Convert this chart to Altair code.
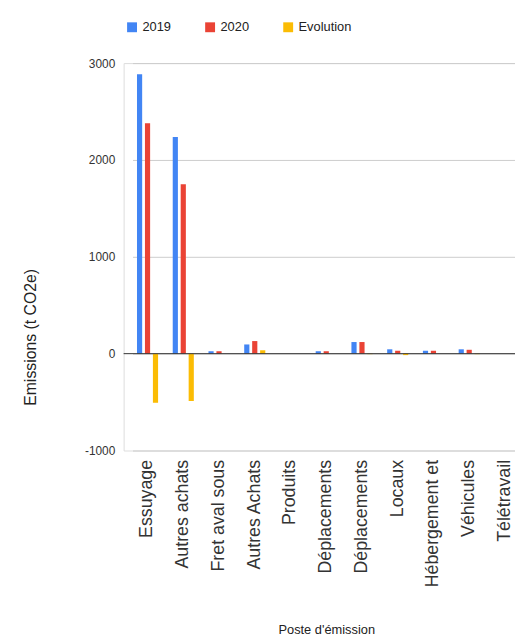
import altair as alt
import pandas as pd

categories = ["Essuyage", "Autres achats", "Fret aval sous", "Autres Achats", "Produits",
              "Déplacements", "Déplacements ", "Locaux", "Hébergement et", "Véhicules", "Télétravail"]
v2019 = [2885, 2237, 25, 95, 0, 25, 120, 45, 30, 45, 0]
v2020 = [2378, 1748, 25, 130, 0, 25, 120, 30, 30, 40, 0]
evolution = [-507, -489, 0, 35, 0, 0, -5, -15, 0, -5, 0]
series = ["2019", "2020", "Evolution"]
colors = ["#4285F4", "#EA4335", "#FBBC04"]

rows = []
for i, c in enumerate(categories):
    for s, vals in zip(series, [v2019, v2020, evolution]):
        rows.append({"cat": c, "serie": s, "value": vals[i]})
df = pd.DataFrame(rows)

font = "Liberation Sans"

bars = alt.Chart(df).mark_bar().encode(
    x=alt.X("cat:N", sort=categories, title="Poste d'émission",
            scale=alt.Scale(paddingInner=0.41, paddingOuter=0.125, range=[9, 401]),
            axis=alt.Axis(labelAngle=-90, labelAlign="right", labelBaseline="middle",
                          labelFontSize=18, labelColor="#333", labelFont=font,
                          labelPadding=9, ticks=False, domain=False,
                          titleFont=font, titleFontSize=13, titleFontWeight="normal",
                          titleColor="#222", titleY=175, labelLimit=250)),
    xOffset=alt.XOffset("serie:N", sort=series, scale=alt.Scale(paddingInner=0.35)),
    y=alt.Y("value:Q", title="Emissions (t CO2e)",
            scale=alt.Scale(domain=[-1000, 3000], nice=False),
            axis=alt.Axis(values=[-1000, 0, 1000, 2000, 3000], labelFont=font,
                          labelExpr="'' + datum.value",
                          labelFontSize=12, labelColor="#333", labelPadding=9,
                          ticks=False, domain=False, gridColor="#cccccc",
                          titleFont=font, titleFontSize=16, titleFontWeight="normal",
                          titleColor="#222", titleX=-86, titleY=277)),
    color=alt.Color("serie:N", sort=series,
                    scale=alt.Scale(domain=series, range=colors),
                    legend=alt.Legend(title=None, orient="none", direction="horizontal",
                                      legendX=2, legendY=-43, symbolType="square",
                                      symbolSize=100, symbolStrokeWidth=0,
                                      labelFont=font, labelFontSize=13, labelColor="#222",
                                      columnPadding=33, symbolOpacity=1)),
)

zero = alt.Chart(pd.DataFrame({"z": [0]})).mark_rule(color="#333333", strokeWidth=1).encode(y="z:Q")

chart = alt.layer(bars, zero).properties(
    width=396, height=392,
    autosize=alt.AutoSizeParams(type="none"),
    padding={"left": 117, "top": 52, "right": 0, "bottom": 190},
).configure_view(stroke=None).configure(background="white")

chart.save("out.html", embed_options={"renderer": "svg", "actions": False})
